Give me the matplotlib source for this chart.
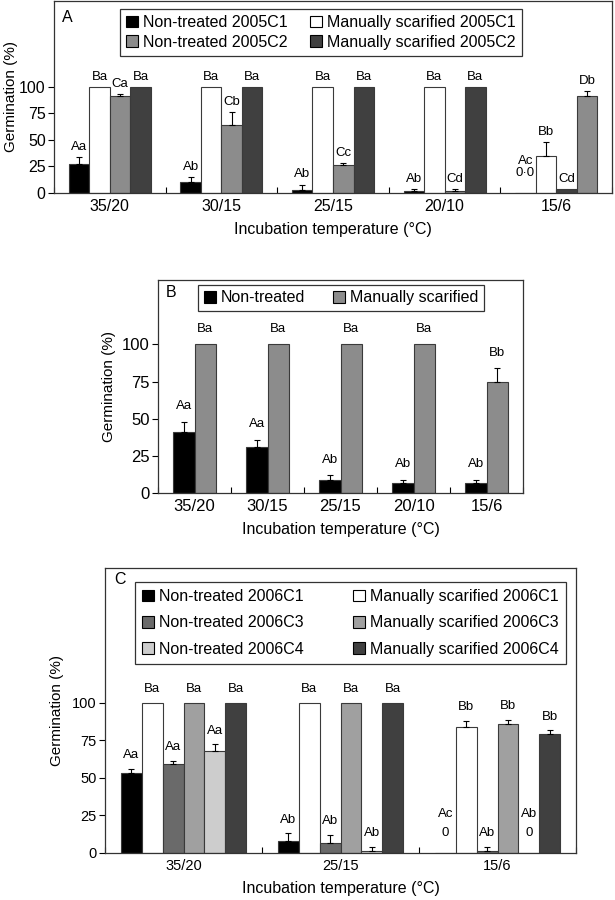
import numpy as np
import matplotlib
matplotlib.use("Agg")
import matplotlib.pyplot as plt
from matplotlib.patches import Patch

plt.rcParams['font.family'] = ['Liberation Sans', 'DejaVu Sans']

# ---------------- Panel A data ----------------
temps_A = ["35/20", "30/15", "25/15", "20/10", "15/6"]
series_A = ["Non-treated 2005C1", "Manually scarified 2005C1",
            "Non-treated 2005C2", "Manually scarified 2005C2"]
nt_c1_A = [27, 10, 3, 2, 0]
nt_c1_A_err = [7, 5, 5, 2, 0]
ms_c1_A = [100, 100, 100, 100, 35]
ms_c1_A_err = [0, 0, 0, 0, 13]
nt_c2_A = [91, 64, 26, 2, 4]
nt_c2_A_err = [2, 12, 2, 2, 0]
ms_c2_A = [100, 100, 100, 100, 91]
ms_c2_A_err = [0, 0, 0, 0, 5]
lab_nt_c1_A = ["Aa", "Ab", "Ab", "Ab", "Ac\n0\u00b70"]
lab_ms_c1_A = ["Ba", "Ba", "Ba", "Ba", "Bb"]
lab_nt_c2_A = ["Ca", "Cb", "Cc", "Cd", "Cd"]
lab_ms_c2_A = ["Ba", "Ba", "Ba", "Ba", "Db"]

# ---------------- Panel B data ----------------
temps_B = ["35/20", "30/15", "25/15", "20/10", "15/6"]
series_B = ["Non-treated", "Manually scarified"]
nt_B = [41, 31, 9, 7, 7]
nt_B_err = [7, 5, 3, 2, 2]
ms_B = [100, 100, 100, 100, 75]
ms_B_err = [0, 0, 0, 0, 9]
lab_nt_B = ["Aa", "Aa", "Ab", "Ab", "Ab"]
lab_ms_B = ["Ba", "Ba", "Ba", "Ba", "Bb"]

# ---------------- Panel C data ----------------
temps_C = ["35/20", "25/15", "15/6"]
series_C = ["Non-treated 2006C1", "Manually scarified 2006C1",
            "Non-treated 2006C3", "Manually scarified 2006C3",
            "Non-treated 2006C4", "Manually scarified 2006C4"]
nt_c1_C = [53, 8, 0]
nt_c1_C_err = [3, 5, 0]
ms_c1_C = [100, 100, 84]
ms_c1_C_err = [0, 0, 4]
nt_c3_C = [59, 6.5, 1.5]
nt_c3_C_err = [2.5, 5.5, 2.5]
ms_c3_C = [100, 100, 86]
ms_c3_C_err = [0, 0, 2.5]
nt_c4_C = [68, 1.5, 0]
nt_c4_C_err = [4.5, 2.5, 0]
ms_c4_C = [100, 100, 79]
ms_c4_C_err = [0, 0, 2.5]
lab_nt_c1_C = ["Aa", "Ab", "Ac\n0"]
lab_ms_c1_C = ["Ba", "Ba", "Bb"]
lab_nt_c3_C = ["Aa", "Ab", "Ab"]
lab_ms_c3_C = ["Ba", "Ba", "Bb"]
lab_nt_c4_C = ["Aa", "Ab", "Ab\n0"]
lab_ms_c4_C = ["Ba", "Ba", "Bb"]

EDGE = '#3a3a3a'


def draw_panel(ax, temps, vals, errs, labels, colors, width, pad, zero_y,
               zero_ls, ann_fs, tick_fs, ylim, ylabelpad):
    n = len(temps)
    k = len(vals)
    x = np.arange(n)
    offsets = (np.arange(k) - (k - 1) / 2) * width
    for i in range(k):
        xi = x + offsets[i]
        v = np.array(vals[i], dtype=float)
        e = np.array(errs[i], dtype=float)
        col = colors[i]
        ax.bar(xi, v, width=width, color=col, edgecolor=EDGE, linewidth=0.8,
               zorder=2)
        m = e > 0
        if m.any():
            ax.errorbar(xi[m], v[m], yerr=[np.zeros(m.sum()), e[m]], fmt='none',
                        ecolor='black', elinewidth=0.8, capsize=2.5,
                        capthick=0.8, zorder=3)
        for j in range(n):
            if v[j] == 0:
                ax.text(xi[j], zero_y, labels[i][j], ha='center', va='bottom',
                        fontsize=ann_fs, linespacing=zero_ls)
            else:
                ax.text(xi[j], v[j] + e[j] + pad, labels[i][j], ha='center',
                        va='bottom', fontsize=ann_fs)
    ax.set_xlim(-0.5, n - 0.5)
    ax.set_ylim(*ylim)
    ax.set_yticks([0, 25, 50, 75, 100])
    ax.set_xticks(np.arange(n + 1) - 0.5)
    ax.set_xticklabels([])
    ax.set_xticks(x, minor=True)
    ax.set_xticklabels(temps, minor=True)
    ax.tick_params(axis='x', which='major', direction='in', length=4,
                   width=0.8)
    ax.tick_params(axis='x', which='minor', length=0, pad=4,
                   labelsize=tick_fs)
    ax.tick_params(axis='y', direction='out', length=4, width=0.8,
                   labelsize=tick_fs, pad=2)
    for s in ax.spines.values():
        s.set_linewidth(0.9)
        s.set_color('#333333')
    ax.set_ylabel("Germination (%)", fontsize=11, labelpad=ylabelpad)
    ax.set_xlabel("Incubation temperature (\u00b0C)", fontsize=11.5,
                  labelpad=6)


fig = plt.figure(figsize=(6.15, 9.0), dpi=100)

# ---------------- Panel A ----------------
axA = fig.add_axes([54 / 615, 707 / 900, 558 / 615, 192 / 900])
cA = ['black', 'white', '#8c8c8c', '#404040']
colsA = [[cA[0]] * 5, [cA[1]] * 5,
         [cA[2]] * 4 + [cA[3]], [cA[3]] * 4 + [cA[2]]]
draw_panel(axA, temps_A, [nt_c1_A, ms_c1_A, nt_c2_A, ms_c2_A],
           [nt_c1_A_err, ms_c1_A_err, nt_c2_A_err, ms_c2_A_err],
           [lab_nt_c1_A, lab_ms_c1_A, lab_nt_c2_A, lab_ms_c2_A],
           colsA, 0.184, 4.0, 13, 1.0, 9.5, 11.5, (0, 181), 0.5)
hA = [Patch(facecolor=c, edgecolor='black', linewidth=0.8) for c in cA]
order = [0, 2, 1, 3]
legA = axA.legend([hA[i] for i in order], [series_A[i] for i in order],
                  ncol=2, loc='upper left', mode='expand',
                  bbox_to_anchor=(0.118, 0.72, 0.721, 0.24),
                  fontsize=11.5, frameon=True, fancybox=False,
                  edgecolor='black', handlelength=0.75, handleheight=0.75,
                  handletextpad=0.3, labelspacing=0.3, borderpad=0.4,
                  columnspacing=1.0, borderaxespad=0)
legA.get_frame().set_linewidth(0.9)
axA.text(0.014, 0.955, "A", transform=axA.transAxes, fontsize=11.5,
         va='top', ha='left')

# ---------------- Panel B ----------------
axB = fig.add_axes([158 / 615, 407 / 900, 365 / 615, 213 / 900])
cB = ['black', '#8c8c8c']
draw_panel(axB, temps_B, [nt_B, ms_B], [nt_B_err, ms_B_err],
           [lab_nt_B, lab_ms_B], [[cB[0]] * 5, [cB[1]] * 5],
           0.295, 6.5, 10, 1.0, 9.5, 12, (0, 143.4), 4)
hB = [Patch(facecolor=c, edgecolor='black', linewidth=0.8) for c in cB]
legB = axB.legend(hB, series_B, ncol=2, loc='upper left', mode='expand',
                  bbox_to_anchor=(0.110, 0.845, 0.783, 0.132),
                  fontsize=11.5, frameon=True, fancybox=False,
                  edgecolor='black', handlelength=0.75, handleheight=0.75,
                  handletextpad=0.3, borderpad=0.35, columnspacing=1.0,
                  borderaxespad=0)
legB.get_frame().set_linewidth(0.9)
axB.text(0.02, 0.975, "B", transform=axB.transAxes, fontsize=11.5,
         va='top', ha='left')

# ---------------- Panel C ----------------
axC = fig.add_axes([105 / 615, 47 / 900, 471 / 615, 285 / 900])
cC = ['black', 'white', '#6a6a6a', '#a0a0a0', '#cdcdcd', '#404040']
draw_panel(axC, temps_C,
           [nt_c1_C, ms_c1_C, nt_c3_C, ms_c3_C, nt_c4_C, ms_c4_C],
           [nt_c1_C_err, ms_c1_C_err, nt_c3_C_err, ms_c3_C_err,
            nt_c4_C_err, ms_c4_C_err],
           [lab_nt_c1_C, lab_ms_c1_C, lab_nt_c3_C, lab_ms_c3_C,
            lab_nt_c4_C, lab_ms_c4_C],
           [[c] * 3 for c in cC], 0.1325, 5.0, 9, 1.8, 9.5, 10.5,
           (0, 189.6), 6)
hC = [Patch(facecolor=c, edgecolor='black', linewidth=0.8) for c in cC]
orderC = [0, 2, 4, 1, 3, 5]
legC = axC.legend([hC[i] for i in orderC], [series_C[i] for i in orderC],
                  ncol=2, loc='upper left', mode='expand',
                  bbox_to_anchor=(0.0637, 0.674, 0.915, 0.277),
                  fontsize=11.5, frameon=True, fancybox=False,
                  edgecolor='black', handlelength=0.75, handleheight=0.75,
                  handletextpad=0.3, labelspacing=0.7, borderpad=0.45,
                  columnspacing=1.0, borderaxespad=0)
legC.get_frame().set_linewidth(0.9)
axC.text(0.02, 0.985, "C", transform=axC.transAxes, fontsize=11.5,
         va='top', ha='left')

fig.savefig("out.png", dpi=100)
